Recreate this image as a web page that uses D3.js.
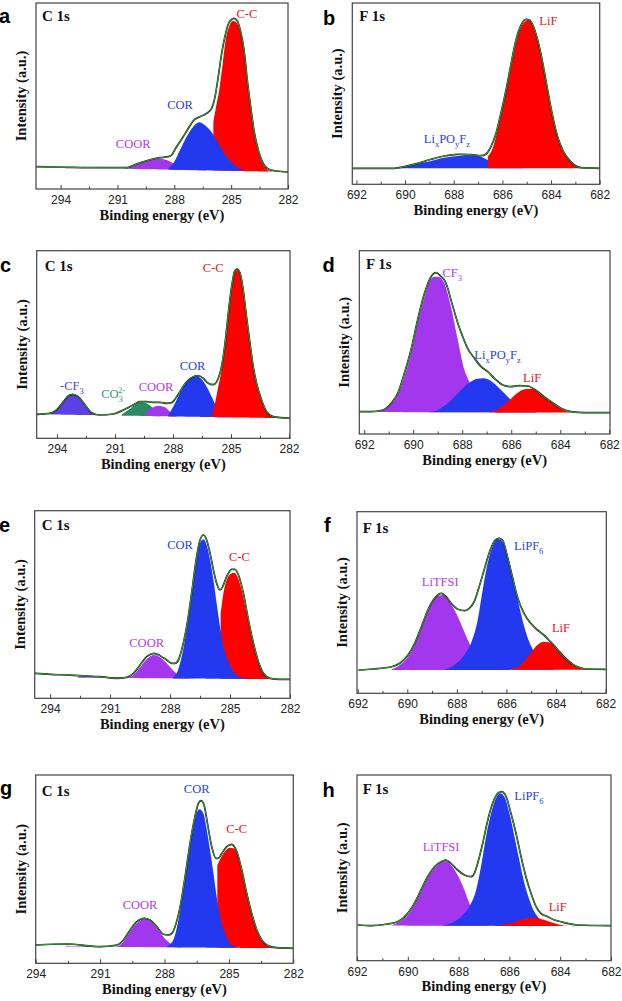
<!DOCTYPE html>
<html><head><meta charset="utf-8">
<script src="https://cdn.jsdelivr.net/npm/d3@7"></script>
<style>body{margin:0;background:#fff}svg{display:block}</style>
</head><body>
<svg id="chart" width="622" height="1001"></svg>
<script>
// ---------------- DATA ----------------
const panelIds = ["a","b","c","d","e","f","g","h"];
const coreLevels = ["C 1s","F 1s","C 1s","F 1s","C 1s","F 1s","C 1s","F 1s"];
const cTicks = [294, 291, 288, 285, 282];
const cMinorTicks = [292.5, 289.5, 286.5, 283.5];
const fTicks = [692, 690, 688, 686, 684, 682];
const fMinorTicks = [691, 689, 687, 685, 683];
const xDomains = [[295.3,282],[692.17,682],[295.05,281.95],[692.2,681.97],[294.77,282],[692.03,681.97],[294,282],[692,682]];
const yDomains = [[0,186],[0,181.3],[0,187.6],[0,183.3],[0,187.6],[0,181.6],[0,188.3],[0,185.7]];
const baselines = [[22,17],[16,16],[24,20],[22,21.3],[21,19],[23.3,23.5],[17,15],[35.2,34.5]];

// measured spectra (binding energy eV, intensity a.u.)
const envA = [[295.3,22.3],[293.68,21.7],[291.92,21.3],[290.51,21.3],[289.99,25],[289.46,28.3],[288.76,31.3],[288.32,32.3],[288.14,34],[287.88,42.3],[287.53,52.3],[287.26,60.7],[287.0,68.3],[286.65,72.3],[286.29,75.7],[286.03,80.7],[285.85,92.3],[285.68,112.3],[285.5,135.7],[285.33,152.3],[285.15,165],[284.97,169.7],[284.85,170.7],[284.68,168.3],[284.5,157.3],[284.32,139],[284.15,109],[283.97,82.3],[283.8,59],[283.57,39],[283.31,25.7],[283.04,20],[282.6,18],[282.0,17]];
const envB = [[692.17,16],[690.44,16],[690.03,17.6],[689.48,21],[688.93,25],[688.39,28.3],[687.84,30],[687.29,29.6],[686.88,28.6],[686.67,30.3],[686.47,37.6],[686.26,51],[686.06,71],[685.85,94.3],[685.64,121],[685.44,144.3],[685.23,159.3],[685.03,165],[684.89,164.3],[684.75,159.3],[684.55,144.3],[684.34,121],[684.14,94.3],[683.93,67.6],[683.73,47.6],[683.52,34.3],[683.31,26],[683.04,19.3],[682.77,16.6],[682.0,16]];
const envC = [[295.05,24],[294.36,25],[294.02,28.3],[293.67,36.6],[293.42,42.3],[293.19,44],[292.9,41.6],[292.55,33.3],[292.21,25.6],[291.78,23.3],[291.09,24.3],[290.57,28.3],[290.06,33.3],[289.71,36.6],[289.37,36.6],[289.02,36],[288.67,36],[288.33,35],[288.07,35.6],[287.9,39],[287.64,46.6],[287.3,56.6],[286.95,61.6],[286.7,62.6],[286.44,60],[286.18,55],[285.92,53.6],[285.66,60],[285.49,71.6],[285.31,95],[285.14,125],[284.97,151.6],[284.8,167.6],[284.68,169.3],[284.54,165.6],[284.37,148.3],[284.2,121.6],[284.02,95],[283.85,71.6],[283.68,55],[283.42,38.3],[283.16,26.6],[282.82,21.6],[281.95,20]];
const envD = [[692.2,22.3],[691.72,22.3],[691.24,24],[690.9,30.7],[690.63,40.7],[690.36,60.7],[690.09,84],[689.82,114],[689.54,140.7],[689.27,157.3],[689.07,161.3],[688.86,157.3],[688.73,154],[688.59,145.7],[688.46,134],[688.32,122.3],[688.18,110.7],[687.98,97.3],[687.78,85.7],[687.5,75.7],[687.23,67.3],[686.96,62.3],[686.69,55.7],[686.35,49],[686.01,47.3],[685.67,48.3],[685.33,48],[685.05,44.7],[684.78,39],[684.37,32.3],[683.97,25.7],[683.56,22.3],[683.01,21.3],[681.97,21.3]];
const envE = [[294.77,25],[294.0,24],[293.17,23.3],[292.3,22.5],[291.5,21.6],[290.67,20],[290.17,21],[289.83,25],[289.5,33.3],[289.17,41.6],[288.8,45],[288.5,42.6],[288.17,38.3],[287.92,35],[287.75,35],[287.58,38.3],[287.42,48.3],[287.17,71.6],[286.92,105],[286.67,141.6],[286.5,158.3],[286.33,163.3],[286.17,158.3],[286.0,145],[285.83,128.3],[285.67,115],[285.5,108.3],[285.37,111.6],[285.17,121.6],[284.92,129],[284.75,129],[284.58,123.3],[284.33,105],[284.08,78.3],[283.83,55],[283.58,36.6],[283.33,25],[283.0,20],[282.5,19],[282.0,19]];
const envF = [[691.97,23.3],[691.37,24.3],[690.63,26.6],[690.3,30],[689.97,38.3],[689.7,50],[689.43,66.6],[689.17,83.3],[688.9,95],[688.63,100],[688.43,96.6],[688.23,90],[687.96,84],[687.7,82.6],[687.5,85],[687.3,91.6],[687.1,106.6],[686.9,123.3],[686.7,140],[686.5,151.6],[686.3,155],[686.16,153.3],[685.96,136.6],[685.76,116.6],[685.56,96.6],[685.29,80],[685.02,70],[684.75,63.3],[684.49,58.3],[684.29,53.3],[684.09,48.3],[683.82,40],[683.55,33.3],[683.28,28.3],[683.02,25.6],[682.75,24.3],[682.0,24]];
const envG = [[294.0,18.3],[292.55,19.3],[291.0,16.6],[290.22,18.3],[289.91,23.3],[289.6,33.3],[289.29,41.6],[288.95,45],[288.67,43.3],[288.36,36.6],[288.05,29],[287.82,28.3],[287.66,30],[287.51,36.6],[287.27,56.6],[287.04,86.6],[286.81,120],[286.58,146.6],[286.42,160],[286.3,162.6],[286.16,158.3],[286.0,140],[285.8,116.6],[285.6,105],[285.49,105],[285.33,110],[285.1,116.6],[284.87,119],[284.63,111.6],[284.4,93.3],[284.17,70],[283.94,50],[283.7,33.3],[283.47,23.3],[283.24,18.3],[282.77,15.6],[282.0,15]];
const envH = [[691.97,35.7],[691.45,35],[690.79,36.7],[690.4,39],[690.0,47.4],[689.74,57.4],[689.48,70.7],[689.22,84],[688.95,94],[688.69,99],[688.5,100.7],[688.3,97.4],[688.04,90.7],[687.77,85.7],[687.51,84],[687.38,87.4],[687.25,97.4],[687.05,117.4],[686.85,140.7],[686.66,157.4],[686.46,167.4],[686.3,169],[686.13,164],[685.94,147.4],[685.74,127.4],[685.54,104],[685.35,84],[685.15,67.4],[684.95,54],[684.76,47.4],[684.49,44],[684.23,40.7],[683.97,39],[683.71,37.4],[683.31,35.7],[682.0,35]];

// fitted components (binding energy eV, intensity a.u.), listed in drawing order
const coorA = [[290.6,20.7],[290.17,23.3],[289.64,27.3],[289.11,29.7],[288.85,30.3],[288.4,29],[288.05,25.7],[287.35,21.3],[286.29,19]];
const ccA = [[285.94,67],[285.8,82],[285.63,99],[285.45,125],[285.3,148],[285.1,163],[284.9,168],[284.7,166],[284.5,155],[284.32,137],[284.15,107],[283.97,80],[283.8,57],[283.57,37],[283.3,24],[283.0,18.5],[282.6,17.5]];
const corA = [[288.3,21],[288.05,25.7],[287.7,39],[287.35,52.3],[287.0,62.3],[286.7,66.7],[286.4,64],[286.12,59],[285.68,45.7],[285.24,32.3],[284.71,22.3],[284.36,19]];

const lixB = [[690.44,16],[689.76,19.3],[689.07,22.6],[688.39,26.6],[687.7,28.6],[687.29,29],[686.88,27.6],[686.6,24.3],[686.19,20.3],[685.64,17.6],[685.1,16]];
const lifB = [[686.6,27.6],[686.4,36],[686.19,55],[685.92,85],[685.64,118],[685.37,148],[685.1,162],[684.96,164],[684.75,159],[684.55,144],[684.34,121],[684.14,94],[683.93,67],[683.73,47],[683.52,34],[683.31,26],[683.04,19],[682.77,16.5]];

const cf3C = [[294.36,24],[294.02,28.3],[293.67,36.6],[293.42,42.3],[293.24,44],[292.98,42.6],[292.64,35],[292.38,28.3],[292.04,23.5]];
const co3C = [[290.66,23.8],[290.31,28.3],[289.97,33.3],[289.62,36],[289.28,34],[289.02,30],[288.67,25]];
const coorC = [[289.45,23.6],[289.11,30],[288.76,32.6],[288.42,31],[288.16,26.6],[287.81,23.5]];
const corC = [[288.24,23.5],[287.99,31.6],[287.64,45],[287.3,56.6],[287.04,61],[286.81,62.6],[286.52,59],[286.26,51.6],[286.0,41.6],[285.75,31.6],[285.4,25],[285.06,22.6]];
const ccC = [[285.98,23],[285.83,35],[285.66,51.6],[285.49,68.3],[285.31,93.3],[285.14,123.3],[284.97,150],[284.8,166],[284.68,168.3],[284.54,164.5],[284.37,147],[284.2,121],[284.02,94],[283.85,71],[283.68,54],[283.42,38],[283.16,26],[282.82,21.6],[282.5,20.5]];

const cf3D = [[691.58,22.3],[691.24,24],[690.9,30],[690.63,39],[690.36,57.3],[690.09,80.7],[689.82,110.7],[689.54,137.3],[689.34,152.3],[689.14,157.3],[688.95,157],[688.73,150.7],[688.46,127.3],[688.18,94],[687.91,64],[687.71,52.3],[687.5,40.7],[687.23,30.7],[686.82,24],[686.41,21.7]];
const lixD = [[689.41,21.5],[689.0,24],[688.59,30.7],[688.18,40.7],[687.78,50],[687.43,55],[687.16,55.7],[686.89,54],[686.55,47.3],[686.28,40.7],[686.01,34],[685.73,29],[685.33,24],[684.92,21.5]];
const lifD = [[686.96,21.5],[686.55,24.7],[686.14,32.3],[685.8,40],[685.46,44.7],[685.19,45.3],[684.92,43.3],[684.65,38.3],[684.37,32.3],[684.03,26.3],[683.69,22.3],[683.29,21.3]];

const coorE = [[292.6,21.8],[291.8,21.6],[291.0,21.2],[290.17,20.6],[289.83,23.3],[289.5,31],[289.17,39],[288.8,43.3],[288.5,41],[288.17,35],[287.83,27.6],[287.42,21.6],[286.83,20]];
const ccE = [[285.47,85],[285.33,105],[285.17,118.3],[284.97,124.3],[284.8,125.6],[284.63,121.6],[284.42,108.3],[284.17,85],[283.92,61.6],[283.67,41.6],[283.42,28.3],[283.17,21.6],[282.83,19.3]];
const corE = [[287.83,21.6],[287.67,25],[287.42,41.6],[287.17,68.3],[286.92,101.6],[286.67,138.3],[286.5,155],[286.33,159],[286.17,153.3],[286.0,138.3],[285.83,118.3],[285.67,95],[285.5,71.6],[285.33,51.6],[285.08,36.6],[284.83,26.6],[284.5,21.6],[284.2,20]];

const litfsiF = [[690.63,24],[690.3,28.3],[689.97,36.6],[689.7,48.3],[689.43,65],[689.17,83.3],[688.9,95],[688.56,98.3],[688.3,91.6],[688.03,80],[687.76,65],[687.56,53.3],[687.36,43.3],[687.03,31.6],[686.63,25],[686.22,23.5]];
const lipf6F = [[688.5,23.5],[688.1,28.3],[687.7,38.3],[687.43,50],[687.16,73.3],[686.96,103.3],[686.76,130],[686.56,146.6],[686.33,154],[686.16,151.6],[685.96,138.3],[685.69,110],[685.42,80],[685.16,56.6],[684.96,45],[684.75,34],[684.49,27.6],[684.09,24]];
const lifF = [[685.82,23.5],[685.42,28.3],[685.02,40],[684.75,48.3],[684.49,51.6],[684.29,51],[684.02,46.6],[683.75,40],[683.49,33.3],[683.22,27.6],[682.88,24.3],[682.48,23.5]];

const coorG = [[292.6,17.6],[291.5,17.2],[290.22,16.9],[289.91,21.6],[289.6,31.6],[289.29,40],[288.95,44],[288.67,42.3],[288.36,35],[288.05,26.6],[287.74,20],[287.27,16.6]];
const ccG = [[285.54,98],[285.41,104],[285.18,112],[284.95,115.5],[284.79,115],[284.6,109],[284.4,91.6],[284.17,70],[283.94,50],[283.7,33.3],[283.47,23.3],[283.24,18.3],[282.93,16],[282.46,15.3]];
const corG = [[287.9,16.6],[287.59,23.3],[287.35,43.3],[287.12,73.3],[286.89,106.6],[286.65,136.6],[286.5,150],[286.37,154],[286.19,150],[286.03,133.3],[285.88,113.3],[285.72,90],[285.57,66.6],[285.41,46.6],[285.18,30],[284.95,20],[284.64,16]];

const litfsiH = [[690.66,35.2],[690.33,39],[690.0,45.7],[689.74,55.7],[689.48,69],[689.22,82.4],[688.95,92.4],[688.69,98],[688.5,99.7],[688.3,95.7],[688.04,85.7],[687.77,70.7],[687.58,57.4],[687.38,45.7],[687.12,37.4],[686.72,35]];
const lipf6H = [[688.69,34.9],[688.3,37.4],[687.9,44],[687.58,54],[687.31,70.7],[687.12,94],[686.92,124],[686.72,147.4],[686.53,162.4],[686.36,167.4],[686.2,164],[686.0,147.4],[685.8,124],[685.61,100.7],[685.41,77.4],[685.21,60.7],[685.02,49],[684.76,40.7],[684.43,36.7],[683.97,35]];
const lifH = [[686.46,34.8],[685.94,37.4],[685.54,40.7],[685.15,43],[684.89,42.4],[684.62,40.7],[684.23,37.4],[683.84,35],[683.44,34.5]];

const envelopes = [envA, envB, envC, envD, envE, envF, envG, envH];
const peakSets = [
  [["COOR", coorA], ["C-C", ccA], ["COR", corA]],
  [["LixPOyFz", lixB], ["LiF", lifB]],
  [["-CF3", cf3C], ["CO3", co3C], ["COOR", coorC], ["COR", corC], ["C-C", ccC]],
  [["CF3", cf3D], ["LixPOyFz", lixD], ["LiF", lifD]],
  [["COOR", coorE], ["C-C", ccE], ["COR", corE]],
  [["LiTFSI", litfsiF], ["LiPF6", lipf6F], ["LiF", lifF]],
  [["COOR", coorG], ["C-C", ccG], ["COR", corG]],
  [["LiTFSI", litfsiH], ["LiPF6", lipf6H], ["LiF", lifH]]
];
// peak labels: [component, markup text, binding energy, intensity]
const labelSets = [
  [["C-C","C-C",284.17,171],["COR","COR",287.7,80],["COOR","COOR",290.17,41]],
  [["LiF","LiF",684.11,159.3],["LixPOyFz","Li_xPO_yF_z",688.28,41]],
  [["C-C","C-C",285.92,166.6],["COR","COR",286.99,68.3],["COOR","COOR",288.88,47.6],["CO3","CO_3^2-",291.1,40],["-CF3","-CF_3",293.23,48.3]],
  [["CF3","CF_3",688.41,156.7],["LixPOyFz","Li_xPO_yF_z",686.56,74.7],["LiF","LiF",685.15,52.3]],
  [["COR","COR",287.5,149],["C-C","C-C",284.53,137.3],["COOR","COOR",289.17,51.6]],
  [["LiPF6","LiPF_6",685.1,143.3],["LiTFSI","LiTFSI",688.67,107.6],["LiF","LiF",683.8,61]],
  [["COR","COR",286.5,170],["C-C","C-C",284.64,130],["COOR","COOR",289.14,54]],
  [["LiPF6","LiPF_6",685.23,160.7],["LiTFSI","LiTFSI",688.69,110],["LiF","LiF",684.1,50]]
];

// ---------------- STYLE / LAYOUT ----------------
const fillColors = {"C-C":"#ff0000","COR":"#2339f0","COOR":"#a237ee","-CF3":"#5b40e6","CO3":"#2c8a63",
  "LiF":"#ff0000","LixPOyFz":"#2339f0","CF3":"#a237ee","LiTFSI":"#a237ee","LiPF6":"#2339f0"};
const labelColors = {"C-C":"#e8161e","COR":"#2b3fe0","COOR":"#b13de6","-CF3":"#5a3ee0","CO3":"#2e9a73",
  "LiF":"#e8161e","LixPOyFz":"#2b3fe0","CF3":"#b13de6","LiTFSI":"#b13de6","LiPF6":"#2b3fe0"};
const boxes = [
  {L:36, R:288, T:3, B:189, letter:[-1,22.5], core:[6,17.5]},
  {L:352.3, R:599.7, T:3, B:184.3, letter:[323,24.5], core:[7,17.5]},
  {L:36.7, R:290, T:250.7, B:438.3, letter:[0,271.5], core:[8,20]},
  {L:359.3, R:610, T:250.7, B:434, letter:[322.5,271.5], core:[6.7,18.6]},
  {L:34.7, R:290, T:510.7, B:698.3, letter:[-1,531.5], core:[7,19.3]},
  {L:357, R:606.3, T:511.7, B:693.3, letter:[324,531.5], core:[5.7,21]},
  {L:35.7, R:293.3, T:775, B:963.3, letter:[0,795], core:[6,21]},
  {L:357, R:611, T:775, B:960.7, letter:[322.5,796.5], core:[5.7,19]}
];

const svg = d3.select("#chart");
const serif = "'Liberation Serif','Times New Roman',serif";
const sans = "'Liberation Sans',Arial,sans-serif";

function richText(g, str, x, y, color) {
  const t = g.append("text").attr("x", x).attr("y", y).attr("text-anchor", "middle")
    .attr("font-family", serif).attr("font-size", 12.5).attr("fill", color);
  const re = /(_.)|(\^.+$)|([^_^]+)/g;
  let m, cur = 0;
  while ((m = re.exec(str))) {
    if (m[1]) {
      t.append("tspan").attr("dy", 3.5 - cur).attr("font-size", 8.5).text(m[1][1]); cur = 3.5;
    } else if (m[2]) {
      t.append("tspan").attr("dx", -4.6).attr("dy", -5.5 - cur).attr("font-size", 8).text(m[2].slice(1)); cur = -5.5;
    } else {
      t.append("tspan").attr("dy", 0 - cur).text(m[3]); cur = 0;
    }
  }
}

panelIds.forEach((id, i) => {
  const bx = boxes[i];
  const isC = coreLevels[i] === "C 1s";
  const x = d3.scaleLinear().domain(xDomains[i]).range([bx.L, bx.R]);
  const y = d3.scaleLinear().domain(yDomains[i]).range([bx.B, bx.T]);
  const base = d3.scaleLinear().domain(xDomains[i]).range(baselines[i]);
  const g = svg.append("g");

  const clipId = "clip-" + id;
  g.append("clipPath").attr("id", clipId).append("rect")
    .attr("x", bx.L).attr("y", bx.T).attr("width", bx.R - bx.L).attr("height", bx.B - bx.T);
  const plot = g.append("g").attr("clip-path", `url(#${clipId})`);

  const area = d3.area().x(d => x(d[0])).y0(d => y(base(d[0]))).y1(d => y(d[1])).curve(d3.curveMonotoneX);
  peakSets[i].forEach(([name, pts]) => {
    plot.append("path").datum(pts).attr("d", area).attr("fill", fillColors[name]).attr("stroke", "none");
  });
  const line = d3.line().x(d => x(d[0])).y(d => y(d[1])).curve(d3.curveMonotoneX);
  plot.append("path").datum(envelopes[i]).attr("d", line).attr("fill", "none")
    .attr("stroke", "#1a1a1a").attr("stroke-width", 1.7).attr("stroke-linejoin", "round");
  plot.append("path").datum(envelopes[i]).attr("d", line).attr("fill", "none")
    .attr("stroke", "#36a236").attr("stroke-width", 1.0).attr("stroke-linejoin", "round");

  // axes
  const major = isC ? cTicks : fTicks;
  const minor = isC ? cMinorTicks : fMinorTicks;
  const ax = g.append("g").attr("transform", `translate(0,${bx.B})`)
    .call(d3.axisBottom(x).tickValues(major).tickSize(-4).tickSizeOuter(0).tickPadding(6.5).tickFormat(d3.format("d")));
  ax.select(".domain").remove();
  ax.selectAll(".tick line").attr("stroke", "#444").attr("stroke-width", 1);
  ax.selectAll(".tick text").attr("font-family", sans).attr("font-size", 12).attr("fill", "#222");
  const axm = g.append("g").attr("transform", `translate(0,${bx.B})`)
    .call(d3.axisBottom(x).tickValues(minor).tickSize(-2.5).tickSizeOuter(0).tickFormat(""));
  axm.select(".domain").remove();
  axm.selectAll(".tick line").attr("stroke", "#444").attr("stroke-width", 1);

  g.append("rect").attr("x", bx.L).attr("y", bx.T).attr("width", bx.R - bx.L).attr("height", bx.B - bx.T)
    .attr("fill", "none").attr("stroke", "#444").attr("stroke-width", 1.2);

  // titles
  g.append("text").attr("x", (bx.L + bx.R) / 2).attr("y", bx.B + 30.5).attr("text-anchor", "middle")
    .attr("font-family", serif).attr("font-weight", "bold").attr("font-size", 14.5).attr("fill", "#111")
    .text("Binding energy (eV)");
  g.append("text").attr("transform", `translate(${bx.L - 15},${(bx.T + bx.B) / 2}) rotate(-90)`)
    .attr("dy", "0.35em").attr("text-anchor", "middle")
    .attr("font-family", serif).attr("font-weight", "bold").attr("font-size", 14.5).attr("fill", "#111")
    .text("Intensity (a.u.)");
  g.append("text").attr("x", bx.L + bx.core[0]).attr("y", bx.T + bx.core[1])
    .attr("font-family", serif).attr("font-weight", "bold").attr("font-size", 15).attr("fill", "#111")
    .text(coreLevels[i]);
  g.append("text").attr("x", bx.letter[0]).attr("y", bx.letter[1])
    .attr("font-family", sans).attr("font-weight", "bold").attr("font-size", 20).attr("fill", "#000")
    .text(id);

  labelSets[i].forEach(([name, txt, ev, inten]) => {
    richText(g, txt, x(ev), y(inten), labelColors[name]);
  });
});
</script>
</body></html>
